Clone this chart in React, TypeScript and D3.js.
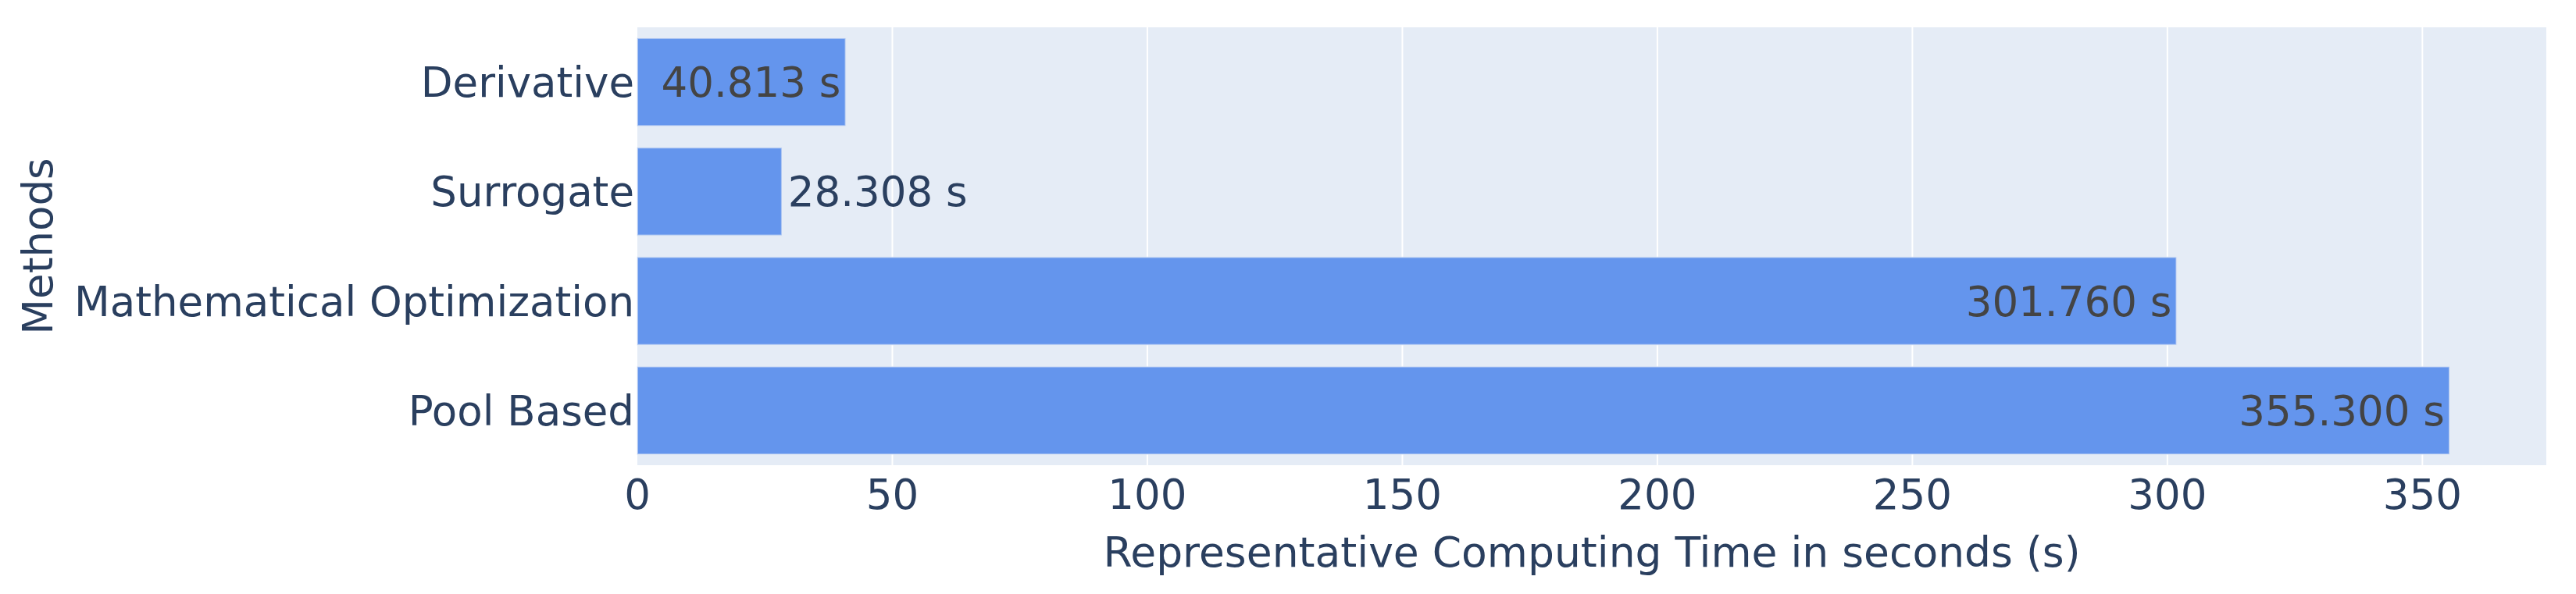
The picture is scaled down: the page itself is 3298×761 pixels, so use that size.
import { useEffect, useRef } from 'react'
import * as d3 from 'd3'

const methods = ['Derivative', 'Surrogate', 'Mathematical Optimization', 'Pool Based']
const times = [40.813, 28.308, 301.76, 355.3]
const xTicks = [0, 50, 100, 150, 200, 250, 300, 350]

const App = () => {
  const W = 3298
  const H = 761
  const margin = { top: 35, right: 38, bottom: 165, left: 816 }
  const width = W - margin.left - margin.right
  const height = H - margin.top - margin.bottom
  const font = 'Verdana, "DejaVu Sans", sans-serif'
  const fs = 53

  const svgRef = useRef<SVGSVGElement>(null)

  useEffect(() => {
    const svg = d3.select(svgRef.current)
    svg.selectAll('*').remove()

    const x = d3.scaleLinear().domain([0, 374.3]).range([0, width])
    const y = d3.scaleBand().domain(methods).range([0, height]).paddingInner(0.2).paddingOuter(0.1)

    const g = svg.append('g').attr('transform', `translate(${margin.left},${margin.top})`)

    g.append('rect')
      .attr('width', width)
      .attr('height', height)
      .attr('fill', '#E5ECF6')

    // vertical grid
    g.selectAll('.grid')
      .data(xTicks.slice(1))
      .enter()
      .append('line')
      .attr('x1', d => x(d))
      .attr('x2', d => x(d))
      .attr('y1', 0)
      .attr('y2', height)
      .attr('stroke', '#fff')
      .attr('stroke-width', 2)

    const data = methods.map((m, i) => ({ m, v: times[i] }))

    g.selectAll('.bar')
      .data(data)
      .enter()
      .append('rect')
      .attr('x', x(0))
      .attr('y', d => y(d.m)!)
      .attr('width', d => x(d.v) - x(0))
      .attr('height', y.bandwidth())
      .attr('fill', '#6495ED')
      .attr('stroke', '#E5ECF6')
      .attr('stroke-opacity', 0.5)
      .attr('stroke-width', 2)

    // bar labels: inside if it fits, else outside
    data.forEach(d => {
      const label = `${d.v.toFixed(3)} s`
      const t = g.append('text')
        .attr('y', y(d.m)! + y.bandwidth() / 2)
        .attr('dy', '0.36em')
        .style('font-family', font)
        .style('font-size', `${fs}px`)
        .text(label)
      const tw = (t.node() as SVGTextElement).getComputedTextLength()
      const bw = x(d.v) - x(0)
      if (tw + 14 < bw) {
        t.attr('x', x(d.v) - 6).attr('text-anchor', 'end').style('fill', '#444')
      } else {
        t.attr('x', x(d.v) + 8).attr('text-anchor', 'start').style('fill', '#2a3f5f')
      }
    })

    // x tick labels
    g.selectAll('.xt')
      .data(xTicks)
      .enter()
      .append('text')
      .attr('x', d => x(d))
      .attr('y', height + 56)
      .attr('text-anchor', 'middle')
      .style('font-family', font)
      .style('font-size', `${fs}px`)
      .style('fill', '#2a3f5f')
      .text(d => `${d}`)

    // y tick labels
    g.selectAll('.yt')
      .data(methods)
      .enter()
      .append('text')
      .attr('x', -4)
      .attr('y', d => y(d)! + y.bandwidth() / 2)
      .attr('dy', '0.36em')
      .attr('text-anchor', 'end')
      .style('font-family', font)
      .style('font-size', `${fs}px`)
      .style('fill', '#2a3f5f')
      .text(d => d)

    // axis titles
    g.append('text')
      .attr('x', width / 2)
      .attr('y', height + 130)
      .attr('text-anchor', 'middle')
      .style('font-family', font)
      .style('font-size', `${fs + 0.5}px`)
      .style('fill', '#2a3f5f')
      .text('Representative Computing Time in seconds (s)')

    g.append('text')
      .attr('transform', 'rotate(-90)')
      .attr('x', -height / 2)
      .attr('y', -margin.left + 67)
      .attr('text-anchor', 'middle')
      .style('font-family', font)
      .style('font-size', `${fs}px`)
      .style('fill', '#2a3f5f')
      .text('Methods')
  }, [])

  return (
    <svg ref={svgRef} width={W} height={H} style={{ position: 'absolute', left: 0, top: 0, background: '#fff' }}></svg>
  )
}

export default App
